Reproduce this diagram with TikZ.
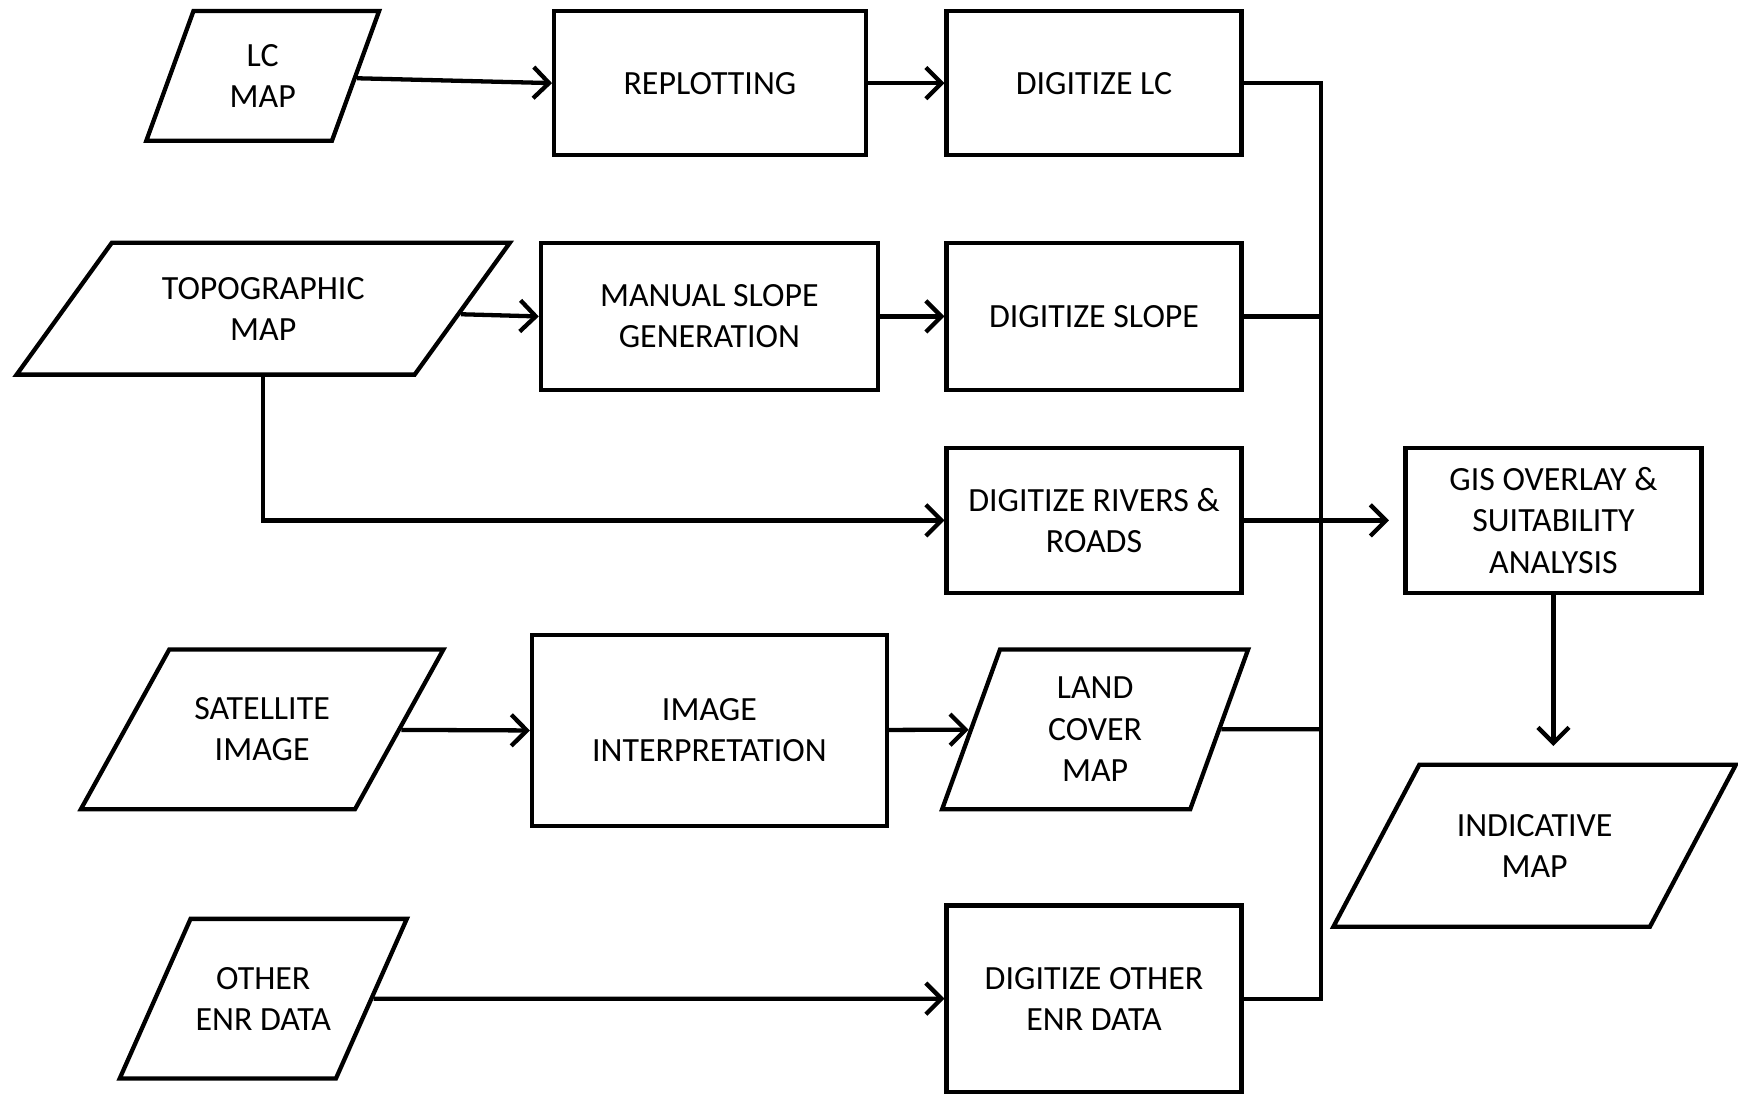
\documentclass[tikz,border=0pt]{standalone}
\usepackage{fontspec}
\setmainfont{Carlito}
\usetikzlibrary{shapes.geometric,arrows.meta}

\begin{document}
\begin{tikzpicture}[
    line width=1.1pt,
    >={Straight Barb[length=4pt,width=8pt]},
    every node/.style={font=\fontsize{8.7}{10.6}\selectfont, align=center},
    procbox/.style={draw, rectangle, inner sep=0pt},
    databox/.style n args={3}{draw, trapezium, trapezium stretches body, inner xsep=0pt, inner ysep=#3,
      trapezium left angle=#1, trapezium right angle=#2}
  ]
    \useasboundingbox (0, 0) rectangle (15.68, -9.88);

    \node[databox={70}{110}{8.5pt}, minimum width=2.10cm, minimum height=1.17cm] (lcmap) at(2.37, -0.685){LC\\MAP};
    \node[procbox, minimum width=2.81cm, minimum height=1.30cm] (replot) at(6.405, -0.75){REPLOTTING};
    \node[procbox, minimum width=2.66cm, minimum height=1.30cm] (diglc) at(9.87, -0.75){DIGITIZE LC};

    \node[databox={54}{126}{8.7pt}, minimum width=4.45cm, minimum height=1.19cm] (topo) at(2.375, -2.785){TOPOGRAPHIC\\MAP};
    \node[procbox, minimum width=3.04cm, minimum height=1.33cm] (manual) at(6.40, -2.855){MANUAL SLOPE\\GENERATION};
    \node[procbox, minimum width=2.66cm, minimum height=1.33cm] (digslope) at(9.87, -2.855){DIGITIZE SLOPE};

    \node[procbox, minimum width=2.66cm, minimum height=1.31cm] (digriv) at(9.87, -4.695){DIGITIZE RIVERS \&\\ROADS};
    \node[procbox, minimum width=2.67cm, minimum height=1.31cm] (gis) at(14.015, -4.695){GIS OVERLAY \&\\SUITABILITY\\ANALYSIS};

    \node[databox={61}{119}{12.3pt}, minimum width=3.27cm, minimum height=1.44cm] (sat) at(2.365, -6.58){SATELLITE\\IMAGE};
    \node[procbox, minimum width=3.20cm, minimum height=1.72cm] (imgint) at(6.40, -6.59){IMAGE\\INTERPRETATION};
    \node[databox={70}{110}{7pt}, minimum width=2.76cm, minimum height=1.44cm] (landcov) at(9.88, -6.58){LAND\\COVER\\MAP};
    \node[databox={62}{118}{12.6pt}, minimum width=3.63cm, minimum height=1.46cm] (indic) at(13.845, -7.63){INDICATIVE\\MAP};

    \node[databox={66}{114}{12.3pt}, minimum width=2.59cm, minimum height=1.44cm] (other) at(2.375, -9.01){OTHER\\ENR DATA};
    \node[procbox, minimum width=2.66cm, minimum height=1.68cm] (digother) at(9.87, -9.01){DIGITIZE OTHER\\ENR DATA};

    \coordinate (bus) at(11.92, -0.75);

    \draw[->] (lcmap) -- (replot.west);
    \draw[->] (replot) -- (diglc);
    \draw[->] (topo) -- (manual.west);
    \draw[->] (manual) -- (digslope);
    \draw[->] (topo.south) |- (digriv.west);
    \draw[->] (sat) -- (imgint.west);
    \draw[->] (imgint) -- (landcov);
    \draw[->] (other) -- (digother.west);

    \draw (diglc.east) -- (diglc.east -| bus) -- (digother.east -| bus) -- (digother.east);
    \draw (digslope.east) -- (digslope.east -| bus);
    \draw (landcov) -- (landcov -| bus);
    \draw[->, shorten >=0.13cm] (digriv) -- (gis);
    \draw[->, shorten >=0.15cm] (gis.south) -- (gis.south |- indic.north);

  \end{tikzpicture}
\end{document}
